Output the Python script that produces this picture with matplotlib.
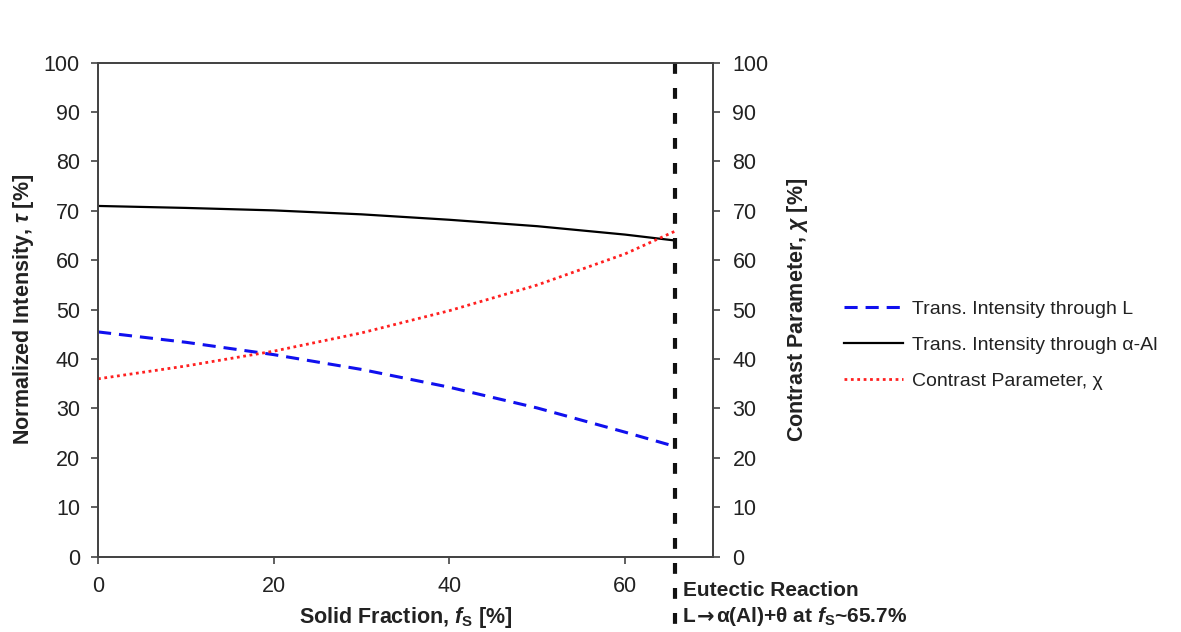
import matplotlib
matplotlib.use("Agg")
import matplotlib.pyplot as plt
import matplotlib.transforms as mtransforms

plt.rcParams['font.family'] = ['Liberation Sans', 'DejaVu Sans']
plt.rcParams['mathtext.fontset'] = 'custom'
plt.rcParams['mathtext.rm'] = 'Liberation Sans:bold'
plt.rcParams['mathtext.it'] = 'Liberation Sans:bold:italic'
plt.rcParams['mathtext.bf'] = 'Liberation Sans:bold'

# data
fs = [0, 10, 20, 30, 40, 50, 60, 65.7]
trans_L = [45.5, 43.4, 40.9, 37.9, 34.3, 30.1, 25.2, 22.3]
trans_al = [71.0, 70.6, 70.1, 69.3, 68.2, 66.9, 65.2, 64.0]
contrast = [36.0, 38.6, 41.6, 45.3, 49.8, 55.0, 61.3, 65.9]
eutectic_fs = 65.7
yticks = [0, 10, 20, 30, 40, 50, 60, 70, 80, 90, 100]
xticks = [0, 20, 40, 60]

txt = '#222222'
fig = plt.figure(figsize=(11.81, 6.32), dpi=100)
ax = fig.add_axes([0.083, 0.1192, 0.5207, 0.7816])
ax2 = ax.twinx()

l1, = ax.plot(fs, trans_L, color='#1010ee', lw=2.2, ls=(0, (4.3, 2.6)),
              label='Trans. Intensity through L')
l2, = ax.plot(fs, trans_al, color='black', lw=1.6,
              label='Trans. Intensity through \u03b1-Al')
l3, = ax2.plot(fs, contrast, color='#ff2020', lw=2.0, ls=(0, (1, 1.3)),
               label='Contrast Parameter, \u03c7')

# eutectic line running down past the axis
trans = mtransforms.blended_transform_factory(ax.transData, ax.transAxes)
ax.plot([eutectic_fs, eutectic_fs], [1, -0.155], transform=trans, color='#111111',
        lw=3.0, ls=(0, (2.6, 3.4)), clip_on=False, zorder=5)

ax.set_xlim(0, 70)
for a in (ax, ax2):
    a.set_ylim(0, 100)
    a.set_yticks(yticks)
    for s in a.spines.values():
        s.set_color('#444444')
        s.set_linewidth(1.3)
ax.set_xticks(xticks)
ax.tick_params(axis='both', labelsize=15.5, colors='#444444', labelcolor=txt,
               length=5, width=1.2, direction='out')
ax.tick_params(axis='y', pad=8)
ax.tick_params(axis='x', pad=9)
ax2.tick_params(axis='y', labelsize=15.5, colors='#444444', labelcolor=txt,
                length=5, width=1.2, direction='out', pad=9)

ax.set_xlabel(r'Solid Fraction, $\mathit{f}_\mathrm{S}$ [%]', fontsize=15.5,
              fontweight='bold', color=txt, labelpad=6)
ax.set_ylabel(r'Normalized Intensity, $\mathit{\tau}$ [%]', fontsize=15.5,
              fontweight='bold', color=txt, labelpad=6)
ax2.set_ylabel(r'Contrast Parameter, $\mathit{\chi}$ [%]', fontsize=15.5,
               fontweight='bold', color=txt, labelpad=12)

# eutectic annotation below the plot
fig.text(0.578, 0.065, 'Eutectic Reaction', fontsize=15, fontweight='bold',
         color=txt, va='center')
t1 = fig.text(0.578, 0.024, 'L', fontsize=15, fontweight='bold', color=txt,
              va='center')
arrow = fig.text(0, 0, '')
arrow = plt.annotate('\u2192', xy=(1, 0.5), xycoords=t1, xytext=(1, 0),
                     textcoords='offset points', fontsize=15, fontweight='bold',
                     color=txt, family='DejaVu Sans', va='center', ha='left',
                     annotation_clip=False)
plt.annotate('\u03b1(Al)+\u03b8 at $\\mathit{f}_\\mathrm{S}$~65.7%', xy=(1, 0.5),
             xycoords=arrow, xytext=(1, 0), textcoords='offset points',
             fontsize=15, fontweight='bold', color=txt, va='center', ha='left',
             annotation_clip=False)

fig.legend(handles=[l1, l2, l3], loc='center left', bbox_to_anchor=(0.70, 0.454),
           frameon=False, fontsize=14, handlelength=3.0, handletextpad=0.5,
           labelspacing=0.93, labelcolor=txt)

fig.savefig('out.png', dpi=100)
